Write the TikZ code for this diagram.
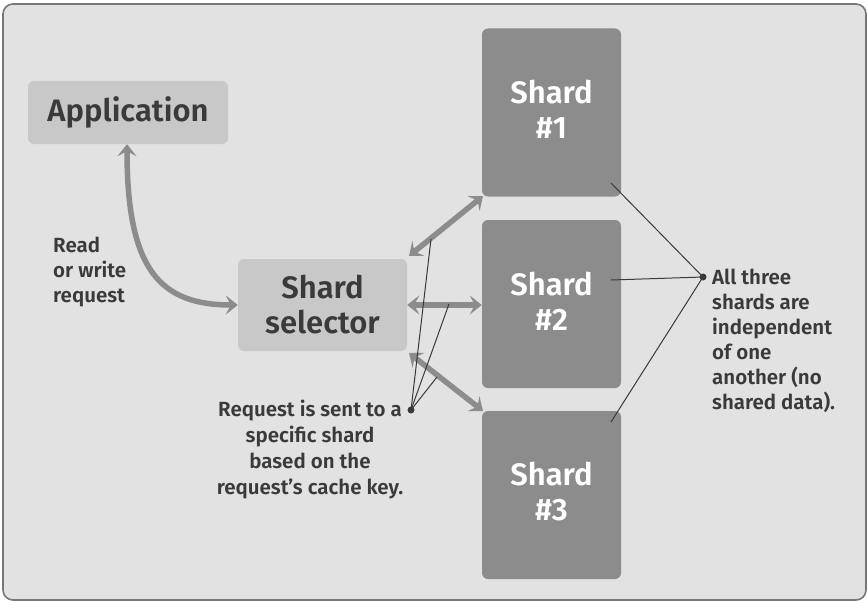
\documentclass[tikz,border=0pt]{standalone}
\usepackage{fontspec}
\setmainfont{Fira Sans SemiBold}
\usetikzlibrary{arrows.meta}
\definecolor{bgc}{HTML}{E2E2E2}
\definecolor{framec}{HTML}{777777}
\definecolor{shardc}{HTML}{8C8C8C}
\definecolor{lightbox}{HTML}{C8C8C8}
\definecolor{txt}{HTML}{3A3A3A}
\tikzset{
  shardbox/.style={fill=shardc, rounded corners=6pt, minimum width=139pt, minimum height=168pt, inner sep=0pt},
  shardtext/.style={text=white, align=center, font=\fontsize{31}{35}\selectfont, inner sep=0pt, yshift=3pt},
  graybox/.style={fill=lightbox, rounded corners=6pt, text=txt, align=center, font=\fontsize{31}{35}\selectfont, inner sep=0pt},
  fatarrow/.style={draw=shardc, line width=5.5pt, {Stealth[length=12pt,width=19pt,inset=5pt]}-{Stealth[length=12pt,width=19pt,inset=5pt]}},
  note/.style={text=txt, font=\fontsize{20.5}{25}\selectfont, inner sep=0pt},
  pointer/.style={draw=txt, line width=1pt},
  dotc/.style={circle, fill=txt, inner sep=0pt, minimum size=7pt}
}
\begin{document}
\begin{tikzpicture}[x=1pt,y=-1pt]
\useasboundingbox (0,0) rectangle (868,602);
\draw[fill=bgc, draw=framec, line width=1.6pt, rounded corners=10pt] (3,4) rectangle (866,600);
% boxes
\node[graybox, minimum width=200pt, minimum height=63pt] (app) at (128,112.5) {Application};
\node[graybox, minimum width=169pt, minimum height=92pt] (sel) at (322.5,305) {Shard\\selector};
\node[shardbox, label={[shardtext]center:Shard\\\#1}] (s1) at (551.5,112.5) {};
\node[shardbox, label={[shardtext]center:Shard\\\#2}] (s2) at (551.5,304) {};
\node[shardbox, label={[shardtext]center:Shard\\\#3}] (s3) at (551.5,495) {};
% arrows
\draw[fatarrow] (app.south -| 127,0) .. controls (127,270) and (160,305) .. (sel.west);
\coordinate (selNE) at (409,256);
\coordinate (selSE) at (409,353);
\coordinate (s1SW) at (483,196);
\coordinate (s3NW) at (483,411);
\draw[fatarrow] (selNE) -- (s1SW);
\draw[fatarrow] (sel.east) -- (s2.west |- sel.east);
\draw[fatarrow] (selSE) -- (s3NW);
% left note
\node[note, align=left, anchor=north west] (rw) at (53,237) {Read\\or write\\request};
% request note
\node[note, align=center, anchor=north, font=\fontsize{20.5}{26}\selectfont] (rq) at (310,400) {Request is sent to a\\specific shard\\based on the\\request’s cache key.};
\node[dotc] (d1) at (411,410) {};
\coordinate (p1) at (431,239);
\coordinate (p2) at (449,304);
\coordinate (p3) at (437,377);
\draw[pointer] (d1.center) -- (p1);
\draw[pointer] (d1.center) -- (p2);
\draw[pointer] (d1.center) -- (p3);
% independence note
\node[note, align=left, anchor=north west] (ind) at (712,269) {All three\\shards are\\independent\\of one\\another (no\\shared data).};
\node[dotc] (d2) at (703,277) {};
\coordinate (q1) at (611,183);
\coordinate (q2) at (611,280);
\coordinate (q3) at (611,422);
\draw[pointer] (d2.center) -- (q1);
\draw[pointer] (d2.center) -- (q2);
\draw[pointer] (d2.center) -- (q3);
\end{tikzpicture}
\end{document}
